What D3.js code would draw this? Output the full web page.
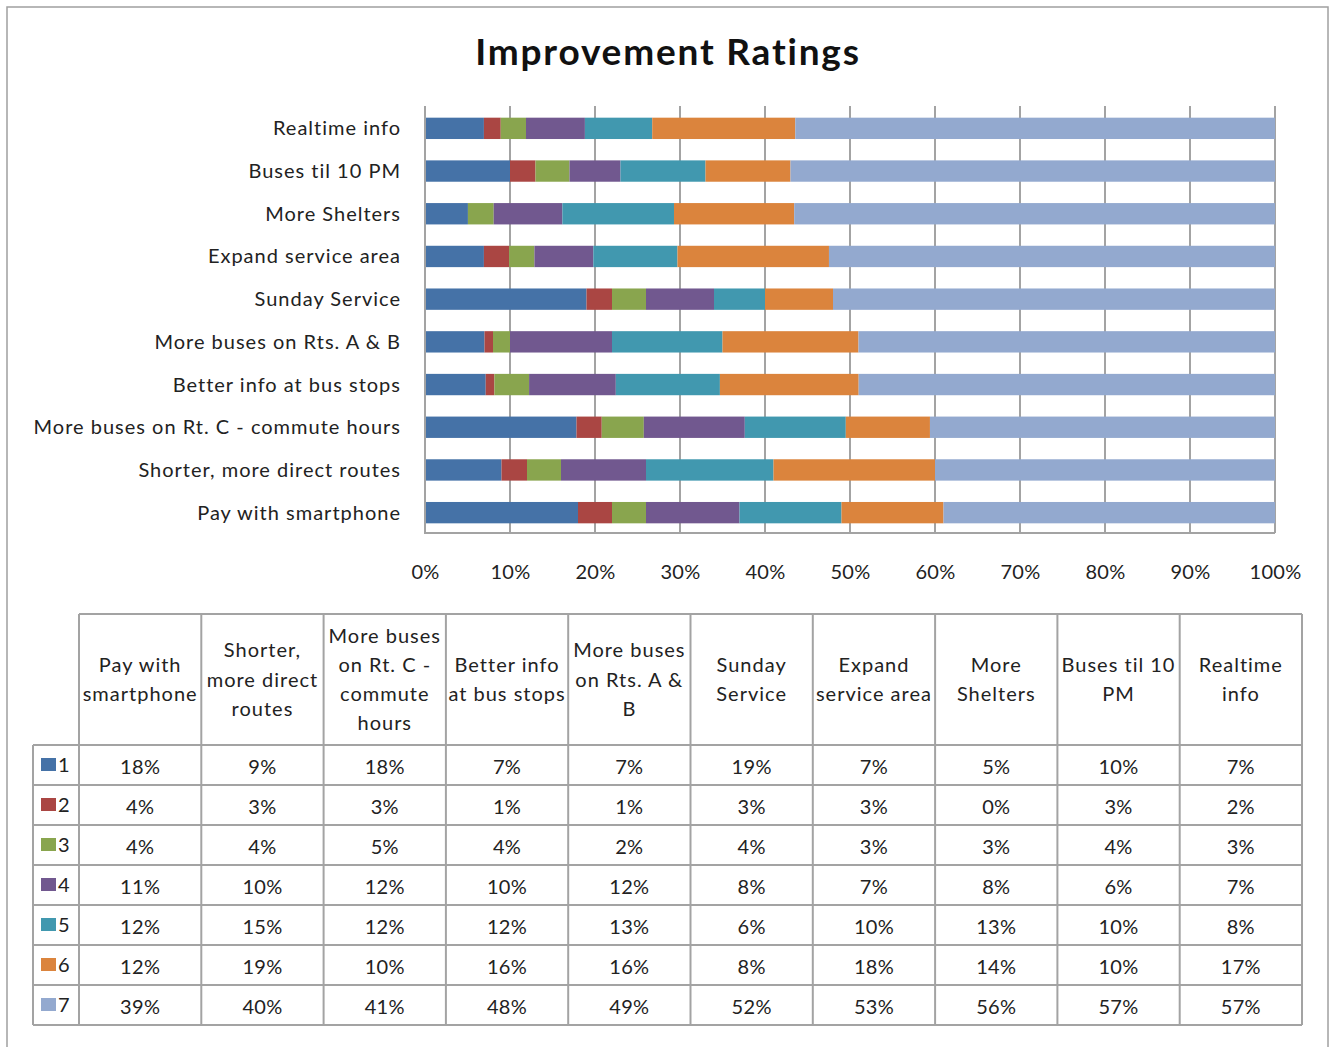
<!DOCTYPE html>
<html>
<head>
<meta charset="utf-8">
<script src="https://cdn.jsdelivr.net/npm/d3@7"></script>
<style>
  html, body { margin: 0; padding: 0; background: #fff; }
  svg { display: block; font-family: Lato, "Open Sans", sans-serif; }
</style>
</head>
<body>
<svg id="chart" width="1329" height="1047"></svg>
<script>
// Improvement ratings: share of respondents giving each rating (1-7)
const categories = [
  "Pay with smartphone",
  "Shorter, more direct routes",
  "More buses on Rt. C - commute hours",
  "Better info at bus stops",
  "More buses on Rts.  A & B",
  "Sunday Service",
  "Expand service area",
  "More Shelters",
  "Buses til 10 PM",
  "Realtime info"
];
// Wrapped column headings for the data table
const headerLines = [
  ["Pay with", "smartphone"],
  ["Shorter,", "more direct", "routes"],
  ["More buses", "on Rt. C -", "commute", "hours"],
  ["Better info", "at bus stops"],
  ["More buses", "on Rts. A &", "B"],
  ["Sunday", "Service"],
  ["Expand", "service area"],
  ["More", "Shelters"],
  ["Buses til 10", "PM"],
  ["Realtime", "info"]
];
const ratings = ["1", "2", "3", "4", "5", "6", "7"];
const colors = ["#4572A7", "#AA4643", "#89A54E", "#71588F", "#4198AF", "#DB843D", "#93A9CF"];

// Percent per rating, one value per category (same order as categories)
const rating1 = [18, 9, 18, 7, 7, 19, 7, 5, 10, 7];
const rating2 = [4, 3, 3, 1, 1, 3, 3, 0, 3, 2];
const rating3 = [4, 4, 5, 4, 2, 4, 3, 3, 4, 3];
const rating4 = [11, 10, 12, 10, 12, 8, 7, 8, 6, 7];
const rating5 = [12, 15, 12, 12, 13, 6, 10, 13, 10, 8];
const rating6 = [12, 19, 10, 16, 16, 8, 18, 14, 10, 17];
const rating7 = [39, 40, 41, 48, 49, 52, 53, 56, 57, 57];
const series = [rating1, rating2, rating3, rating4, rating5, rating6, rating7];

const xTicks = [0, 0.1, 0.2, 0.3, 0.4, 0.5, 0.6, 0.7, 0.8, 0.9, 1];

const svg = d3.select("#chart");
const gridColor = "#a3a3a3";
const textColor = "#222";

// outer frame
svg.append("rect")
  .attr("x", 7).attr("y", 7).attr("width", 1321).attr("height", 1080)
  .attr("fill", "#fff").attr("stroke", "#a0a0a0").attr("stroke-width", 1.5);

// title
svg.append("text")
  .attr("x", 668).attr("y", 65)
  .attr("text-anchor", "middle")
  .attr("font-size", 37).attr("font-weight", 700)
  .attr("letter-spacing", 1.8)
  .attr("fill", "#111")
  .text("Improvement Ratings");

// build table rows for the stack
const rows = categories.map((c, i) => {
  const r = { category: c };
  ratings.forEach((k, j) => { r[k] = series[j][i]; });
  return r;
});
const stacked = d3.stack().keys(ratings).offset(d3.stackOffsetExpand)(rows);

const x = d3.scaleLinear().domain([0, 1]).range([425, 1275]);
const y = d3.scaleBand()
  .domain(categories.slice().reverse())
  .range([107, 534])
  .paddingInner(0.5).paddingOuter(0.25);

// gridlines
svg.append("g").selectAll("line")
  .data(xTicks)
  .join("line")
  .attr("x1", d => x(d)).attr("x2", d => x(d))
  .attr("y1", 106).attr("y2", 533)
  .attr("stroke", gridColor).attr("stroke-width", 2);

// bars
svg.append("g").selectAll("g")
  .data(stacked)
  .join("g")
  .attr("fill", (d, i) => colors[i])
  .selectAll("rect")
  .data(d => d)
  .join("rect")
  .attr("x", d => x(d[0]))
  .attr("y", d => y(d.data.category))
  .attr("width", d => Math.max(0, x(d[1]) - x(d[0])))
  .attr("height", y.bandwidth());

// axis lines
svg.append("line")
  .attr("x1", x(0)).attr("x2", x(1)).attr("y1", 533).attr("y2", 533)
  .attr("stroke", gridColor).attr("stroke-width", 2);
svg.append("line")
  .attr("x1", x(0)).attr("x2", x(0)).attr("y1", 106).attr("y2", 534)
  .attr("stroke", gridColor).attr("stroke-width", 2);

// x axis labels
const xAxis = svg.append("g")
  .attr("transform", "translate(0,565)")
  .call(d3.axisBottom(x).tickValues(xTicks).tickFormat(d3.format(".0%")).tickSize(0).tickPadding(0));
xAxis.select(".domain").remove();
xAxis.selectAll("text").attr("font-size", 20).attr("fill", textColor)
  .attr("font-family", "Lato, sans-serif").attr("letter-spacing", 0.3);

// category labels
const yAxis = svg.append("g")
  .attr("transform", `translate(${x(0)},0)`)
  .call(d3.axisLeft(y).tickSize(0).tickPadding(24));
yAxis.select(".domain").remove();
yAxis.selectAll("text").attr("font-size", 20).attr("fill", textColor)
  .attr("font-family", "Lato, sans-serif").attr("letter-spacing", 1)
  .attr("dy", "0.35em");

// data table
const col = d3.scaleBand().domain(categories).range([79, 1302]);
const headTop = 614, rowTop = 745, rowH = 40;
const legendLeft = 33;
const tbl = svg.append("g").attr("stroke", "#a3a3a3").attr("stroke-width", 2);

// horizontal rules
tbl.append("line").attr("x1", 79).attr("x2", 1302).attr("y1", headTop).attr("y2", headTop);
d3.range(ratings.length + 1).forEach(i => {
  tbl.append("line").attr("x1", legendLeft).attr("x2", 1302)
    .attr("y1", rowTop + i * rowH).attr("y2", rowTop + i * rowH);
});
// vertical rules
tbl.append("line").attr("x1", legendLeft).attr("x2", legendLeft)
  .attr("y1", rowTop).attr("y2", rowTop + ratings.length * rowH);
categories.forEach((c, i) => {
  tbl.append("line").attr("x1", col(c)).attr("x2", col(c))
    .attr("y1", headTop).attr("y2", rowTop + ratings.length * rowH);
});
tbl.append("line").attr("x1", 1302).attr("x2", 1302)
  .attr("y1", headTop).attr("y2", rowTop + ratings.length * rowH);

// column headings
const headMid = (headTop + rowTop) / 2;
categories.forEach((c, i) => {
  const lines = headerLines[i];
  const t = svg.append("text")
    .attr("text-anchor", "middle")
    .attr("font-size", 20).attr("letter-spacing", 1).attr("fill", textColor);
  lines.forEach((ln, k) => {
    t.append("tspan")
      .attr("x", col(c) + col.bandwidth() / 2)
      .attr("y", headMid + (k - (lines.length - 1) / 2) * 29.3)
      .attr("dy", "0.35em")
      .text(ln);
  });
});

// rating rows: legend key + values
ratings.forEach((k, j) => {
  const top = rowTop + j * rowH;
  svg.append("rect")
    .attr("x", 41).attr("y", top + 13).attr("width", 15).attr("height", 13)
    .attr("fill", colors[j]);
  svg.append("text")
    .attr("x", 58).attr("y", top + 20).attr("dy", "0.35em")
    .attr("font-size", 20).attr("fill", textColor)
    .text(k);
  categories.forEach((c, i) => {
    svg.append("text")
      .attr("x", col(c) + col.bandwidth() / 2)
      .attr("y", top + 22).attr("dy", "0.35em")
      .attr("text-anchor", "middle")
      .attr("font-size", 20).attr("letter-spacing", 0.3).attr("fill", textColor)
      .text(series[j][i] + "%");
  });
});
</script>
</body>
</html>
